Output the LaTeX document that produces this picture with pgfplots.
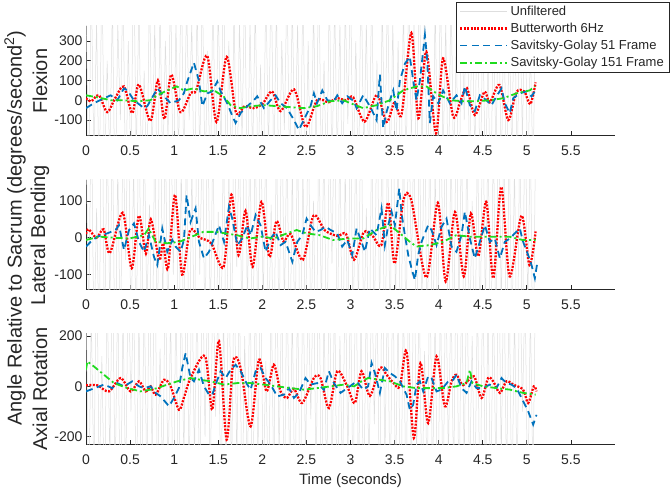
\documentclass[border=0pt]{standalone}
\usepackage{fontspec}
\setmainfont{Liberation Sans}
\usepackage{pgfplots}
\pgfplotsset{compat=1.18}
\usepackage{pgfplotstable}

\definecolor{mgray}{rgb}{0.15,0.15,0.15}
\definecolor{rawc}{rgb}{0.87,0.87,0.87}
\definecolor{bw}{rgb}{1,0,0}
\definecolor{sg}{rgb}{0,0.447,0.741}
\definecolor{sgg}{rgb}{0.12,0.86,0.12}

\pgfplotstableread{
a b c
5 3 4
-4 -2.5 -5
6 4 3
-3 -3 -4
4 0.8 6
-5 -3 -4
7 5 1.2
-4 -3 -5
2 3 4
-3 -2 -3
5 3 5
-6 -4 -4
4 2 4
-1 -3 -6
6 3 3
-5 -0.6 -4
3 4 5
-4 -3 -1
8 2 4
-3 -3 -5
5 4 3
-4 -3 -5
1.5 3 4
-5 -2 -4
6 0.9 5
-3 -4 -3
4 3 6
-6 -3 -4
5 5 1.5
-4 -2 -4
3 3 5
-2 -3 -4
6 4 3
-5 -1 -6
4 3 4
-3 -4 -5
7 2 4
-4 -3 -3
5 3 5
-1 -4 -4
4 2 5
-6 -3 -3
5 4 4
-3 -1 -5
6 3 6
-4 -3 -2
2.5 4 4
-5 -2.5 -4
6 3 5
-4 -4 -1.2
5 0.7 4
-3 -3 -5
7 3 3
-5 -4 -4
3 2 6
-4 -3 -4
5 4 5
-6 -0.8 -3
4 3 4
-2 -3 -5
6 5 2
-5 -2 -4
4 3 5
-3 -4 -6
5 3 4
-4 -3 -3
1.8 4 5
-5 -2 -4
6 3 1
-3 -3 -5
7 0.9 4
-4 -4 -4
5 3 6
-6 -3 -3
3 4 4
-1.5 -2 -5
6 3 5
-4 -4 -4
5 2 3
-3 -3 -5
4 3 4
-5 -4 -6
6 2 5
-4 -3 -3
3 4 4
-6 -3 -1.3
5 1 5
-3 -4 -4
7 3 6
-4 -2 -5
2 3 3
-5 -4 -4
6 3 5
-4 -0.7 -4
5 4 4
-3 -3 -6
4 3 2
-6 -4 -4
5 2 5
-1.2 -3 -3
6 4 4
-4 -3 -5
3 3 6
-5 -2 -4
7 4 3
-3 -3 -5
4 0.8 4
-5 -4 -4
6 3 5
-4 -3 -1.5
2 4 4
-6 -2 -5
5 3 6
-3 -4 -3
6 3 4
-4 -3 -5
4 5 5
-5 -2 -4
3 3 3
-6 -4 -6
5 3 4
-4 -3 -5
6 4 5
-2 -1 -4
4 3 6
-5 -4 -3
7 3 4
-3 -2 -5
5 4 1.4
-4 -3 -4
1.6 3 5
-6 -4 -4
5 2 3
-4 -3 -6
6 4 4
-3 -0.9 -5
4 3 5
-5 -4 -3
6 3 4
-4 -3 -4
3 4 6
-6 -2 -5
5 3 4
-1 -4 -3
7 3 5
-4 -3 -4
5 1 2
-3 -4 -5
6 3 4
-5 -3 -6
4 4 5
-4 -2 -4
2 3 3
-6 -4 -5
5 3 4
-3 -3 -4
6 4 6
-4 -2 -3
5 3 5
-5 -4 -4
4 3 4
-3 -3 -5
6 2 3
-4 -4 -4
5 3 5
-2 -3 -1
6 4 4
-5 -2 -5
3 3 3
-4 -4 -4
5 3 5
}\rawdata

\pgfplotsset{
 myax/.style={
  scale only axis, width=529pt,
  xmin=0, xmax=6,
  axis x line*=bottom, axis y line*=left,
  hide obscured x ticks=false, hide obscured y ticks=false,
  xtick={0,0.5,1,1.5,2,2.5,3,3.5,4,4.5,5,5.5},
  tick align=inside,
  major tick length=4.5pt,
  axis line style={draw=mgray, line width=1pt},
  every tick/.style={draw=mgray, line width=0.8pt},
  tick label style={font=\fontsize{14}{16}\selectfont, text=mgray},
  /pgf/number format/assume math mode=true,
  xticklabel style={yshift=-6pt},
  every axis y label/.style={at={(axis description cs:-0.087,0.5)}, rotate=90, anchor=center, font=\fontsize{20}{22}\selectfont, text=mgray},
  every axis x label/.style={at={(axis description cs:0.5,0)}, anchor=center, yshift=-36pt, font=\fontsize{15}{17}\selectfont, text=mgray},
 },
 rawst/.style={rawc, line width=0.5pt},
 bwst/.style={bw, line width=2.3pt, dash pattern=on 2pt off 1.4pt, smooth},
 sgst/.style={sg, line width=1.8pt, dash pattern=on 7pt off 4.5pt},
 sggst/.style={sgg, line width=1.8pt, dash pattern=on 7pt off 3pt on 2pt off 3pt},
}

\begin{document}
\begin{tikzpicture}
\useasboundingbox (0,0) rectangle (671pt,487pt);

% ---------------- Flexion ----------------
\begin{axis}[myax, at={(86pt,351pt)}, anchor=south west, height=110pt,
  ymin=-181, ymax=376, ytick={-100,0,100,200,300}, ylabel={Flexion},
  legend cell align=left,
  legend image code/.code={\draw[#1] (0pt,0pt) -- (47pt,0pt);},
  legend style={at={(1.102,1.221)}, anchor=north east, draw=mgray, fill=white,
    font=\fontsize{13}{15}\selectfont, text=mgray, inner xsep=3pt, inner ysep=2pt,
    row sep=2.2pt},
]
\addplot[rawst] table[x expr=\coordindex*0.03, y expr=100*\thisrow{a}] {\rawdata};
\addlegendentry{Unfiltered}
\addplot[bwst] coordinates {(0,10)(0.06,-5)(0.147,25)(0.24,-60)(0.33,10)(0.43,70)(0.525,-65)(0.60,80)(0.73,-105)(0.816,100)(0.89,-95)(0.967,130)(1.07,-60)(1.186,35)(1.25,50)(1.375,225)(1.48,-110)(1.595,220)(1.70,-60)(1.80,-30)(1.90,-40)(2.00,-20)(2.11,45)(2.207,-55)(2.36,55)(2.49,-135)(2.62,0)(2.75,-10)(2.85,10)(2.95,0)(3.03,15)(3.16,-108)(3.30,27)(3.41,-110)(3.50,-10)(3.58,-70)(3.69,340)(3.77,-91)(3.86,246)(3.97,-167)(4.05,212)(4.165,-83)(4.25,0)(4.32,62)(4.41,-75)(4.52,43)(4.58,-10)(4.69,77)(4.79,-100)(4.88,40)(4.97,45)(5.04,-20)(5.10,90)};
\addlegendentry{Butterworth 6Hz}
\addplot[sgst] coordinates {(0,-40)(0.09,-15)(0.204,10)(0.28,25)(0.355,0)(0.43,60)(0.47,50)(0.544,0)(0.658,-40)(0.695,-30)(0.81,60)(0.884,20)(0.96,-15)(1.054,0)(1.11,35)(1.149,95)(1.224,190)(1.28,100)(1.32,-30)(1.376,35)(1.432,45)(1.489,95)(1.527,45)(1.602,-15)(1.66,-80)(1.697,-115)(1.754,-65)(1.829,-30)(1.905,0)(1.942,20)(2.018,-40)(2.094,0)(2.15,25)(2.207,-15)(2.28,-40)(2.358,-100)(2.415,-150)(2.47,-100)(2.547,-30)(2.585,35)(2.62,-15)(2.68,50)(2.737,0)(2.81,-5)(2.85,25)(2.906,-15)(2.964,20)(3.04,-5)(3.069,-40)(3.144,25)(3.22,-30)(3.296,-100)(3.333,130)(3.371,-140)(3.409,-60)(3.447,0)(3.485,50)(3.522,-55)(3.56,100)(3.617,185)(3.673,220)(3.711,100)(3.749,0)(3.787,100)(3.844,330)(3.87,205)(3.9,-115)(3.938,20)(3.995,-15)(4.05,50)(4.127,-15)(4.202,25)(4.259,-15)(4.297,70)(4.354,-25)(4.41,-55)(4.467,25)(4.542,0)(4.599,-25)(4.656,20)(4.713,60)(4.75,-15)(4.807,-65)(4.845,10)(4.92,35)(4.996,45)(5.053,20)(5.091,45)};
\addlegendentry{Savitsky-Golay 51 Frame}
\addplot[sggst] coordinates {(0,25)(0.13,15)(0.28,0)(0.43,0)(0.58,-5)(0.73,0)(0.81,25)(0.92,50)(1.03,70)(1.11,50)(1.22,60)(1.34,45)(1.45,50)(1.56,20)(1.64,-25)(1.75,-40)(1.87,-30)(2.02,-25)(2.17,-30)(2.32,-35)(2.47,-40)(2.62,-30)(2.77,-5)(2.92,0)(3.0,-15)(3.144,-40)(3.296,-25)(3.447,0)(3.598,50)(3.749,70)(3.862,70)(3.976,35)(4.127,0)(4.278,-5)(4.429,-5)(4.58,0)(4.731,10)(4.883,35)(5.034,50)(5.09,70)};
\addlegendentry{Savitsky-Golay 151 Frame}
\end{axis}

% ---------------- Lateral Bending ----------------
\begin{axis}[myax, at={(86pt,197pt)}, anchor=south west, height=110pt,
  ymin=-142, ymax=157, ytick={-100,0,100}, ylabel={Lateral Bending}]
\addplot[rawst] table[x expr=\coordindex*0.03, y expr=100*\thisrow{b}] {\rawdata};
\addplot[bwst] coordinates {(0,10)(0.03,23)(0.12,0)(0.2,23)(0.27,-42)(0.416,68)(0.518,-83)(0.60,60)(0.68,-43)(0.735,50)(0.83,-60)(0.875,-15)(0.93,-83)(1.01,117)(1.09,-100)(1.18,20)(1.29,0)(1.42,-15)(1.56,-79)(1.65,117)(1.73,-47)(1.81,73)(1.89,-79)(1.99,98)(2.08,-52)(2.16,45)(2.24,-10)(2.32,10)(2.46,-60)(2.58,60)(2.71,20)(2.85,5)(2.95,10)(3.04,-60)(3.15,15)(3.25,5)(3.35,-20)(3.43,95)(3.50,-70)(3.60,102)(3.69,102)(3.86,-108)(3.99,95)(4.08,-119)(4.185,70)(4.285,-105)(4.365,66)(4.45,-50)(4.54,98)(4.62,-110)(4.71,138)(4.805,-105)(4.94,60)(5.03,-74)(5.10,17)};
\addplot[sgst] coordinates {(0,-24)(0.053,-11)(0.128,3)(0.242,12)(0.336,21)(0.374,34)(0.431,-33)(0.488,21)(0.544,39)(0.601,-11)(0.658,-38)(0.714,7)(0.771,-52)(0.809,-74)(0.865,25)(0.922,-38)(0.979,-6)(1.016,-24)(1.073,-38)(1.111,-6)(1.141,116)(1.186,43)(1.243,80)(1.281,-11)(1.338,-56)(1.395,-38)(1.451,-2)(1.508,34)(1.565,-11)(1.621,84)(1.659,52)(1.716,-20)(1.773,-2)(1.829,34)(1.867,7)(1.924,62)(1.98,34)(2.037,-38)(2.094,-2)(2.15,16)(2.207,-20)(2.264,-11)(2.34,-65)(2.396,-11)(2.453,7)(2.502,52)(2.547,34)(2.604,16)(2.66,21)(2.718,30)(2.774,21)(2.85,12)(2.906,-24)(2.963,-6)(3.02,-47)(3.069,25)(3.125,-11)(3.163,-38)(3.22,25)(3.296,7)(3.352,80)(3.39,-20)(3.428,34)(3.466,71)(3.503,34)(3.553,134)(3.579,66)(3.617,7)(3.655,-47)(3.692,-83)(3.73,-115)(3.768,-47)(3.806,-11)(3.844,12)(3.881,34)(3.919,21)(3.976,-20)(4.033,30)(4.089,52)(4.146,-24)(4.202,-38)(4.259,7)(4.297,71)(4.354,-2)(4.41,-56)(4.467,-11)(4.524,34)(4.58,-11)(4.637,-2)(4.694,-56)(4.75,-11)(4.807,-2)(4.864,12)(4.92,25)(4.958,-11)(5.015,-47)(5.053,-74)(5.091,-110)(5.117,-70)};
\addplot[sggst] coordinates {(0,-6)(0.15,3)(0.32,0)(0.49,-2)(0.66,7)(0.71,25)(0.79,-11)(0.92,-15)(1.06,-11)(1.2,3)(1.33,16)(1.47,16)(1.58,12)(1.71,7)(1.86,-2)(2.0,3)(2.13,-2)(2.28,12)(2.39,21)(2.5,12)(2.65,7)(2.8,-6)(2.993,-2)(3.144,-2)(3.296,21)(3.447,34)(3.56,12)(3.673,-11)(3.749,-24)(3.9,-20)(4.05,-11)(4.2,7)(4.35,3)(4.5,3)(4.65,3)(4.8,3)(4.95,-6)(5.1,-6)};
\end{axis}

% ---------------- Axial Rotation ----------------
\begin{axis}[myax, at={(86pt,42pt)}, anchor=south west, height=112pt,
  ymin=-233, ymax=212, ytick={-200,0,200}, ylabel={Axial Rotation},
  xlabel={Time (seconds)}]
\addplot[rawst] table[x expr=\coordindex*0.03, y expr=100*\thisrow{c}] {\rawdata};
\addplot[bwst] coordinates {(0,4)(0.128,4)(0.26,-20)(0.393,33)(0.506,-20)(0.6,20)(0.677,-20)(0.733,0)(0.79,-33)(0.884,26)(0.96,0)(1.054,-93)(1.11,-46)(1.186,33)(1.35,120)(1.432,-93)(1.508,181)(1.595,-212)(1.67,99)(1.754,73)(1.867,-159)(1.961,106)(2.048,-20)(2.13,86)(2.207,-20)(2.28,-46)(2.358,-10)(2.453,-66)(2.585,33)(2.66,33)(2.755,-86)(2.85,60)(2.963,0)(3.05,-66)(3.125,60)(3.22,-38)(3.333,73)(3.409,46)(3.485,15)(3.56,0)(3.636,139)(3.719,-205)(3.794,93)(3.881,-146)(3.976,119)(4.07,-79)(4.146,20)(4.202,46)(4.278,5)(4.399,40)(4.486,-46)(4.561,33)(4.618,20)(4.694,-26)(4.769,20)(4.845,7)(4.958,-13)(5.015,-66)(5.079,0)(5.11,-20)};
\addplot[sgst] coordinates {(0,-20)(0.053,-13)(0.204,7)(0.299,-7)(0.355,13)(0.431,0)(0.525,20)(0.601,0)(0.658,-7)(0.733,0)(0.79,-26)(0.847,-40)(0.941,-79)(0.998,-46)(1.054,-7)(1.092,73)(1.13,132)(1.186,33)(1.224,20)(1.281,66)(1.338,0)(1.395,-33)(1.432,-33)(1.47,7)(1.527,60)(1.584,33)(1.64,66)(1.697,86)(1.754,60)(1.829,7)(1.867,-13)(1.924,60)(1.98,73)(2.037,33)(2.094,7)(2.169,-40)(2.245,-33)(2.302,-7)(2.358,-46)(2.415,-26)(2.49,33)(2.547,7)(2.623,13)(2.698,-13)(2.755,60)(2.812,13)(2.887,-26)(2.963,-7)(3.02,7)(3.069,20)(3.144,-13)(3.2,0)(3.239,93)(3.277,53)(3.333,-26)(3.39,73)(3.447,53)(3.503,40)(3.56,20)(3.636,-33)(3.673,-93)(3.711,-73)(3.749,7)(3.787,20)(3.825,-20)(3.881,40)(3.919,33)(3.976,-20)(4.033,-13)(4.108,20)(4.165,26)(4.202,46)(4.259,-7)(4.316,-26)(4.372,20)(4.429,-7)(4.505,-7)(4.58,7)(4.656,-7)(4.713,33)(4.769,13)(4.826,7)(4.883,-7)(4.94,-46)(5.015,-99)(5.072,-152)(5.11,-113)};
\addplot[sggst] coordinates {(0,66)(0.015,99)(0.09,79)(0.204,46)(0.317,13)(0.469,-7)(0.62,-20)(0.733,-13)(0.809,-7)(0.922,7)(1.035,20)(1.186,33)(1.3,26)(1.413,20)(1.565,7)(1.716,13)(1.867,13)(2.018,7)(2.169,0)(2.32,-7)(2.47,-13)(2.623,-7)(2.774,0)(2.925,7)(3.04,0)(3.125,20)(3.2,33)(3.333,26)(3.447,20)(3.598,0)(3.749,-7)(3.9,-7)(4.05,-7)(4.202,0)(4.316,13)(4.354,66)(4.384,13)(4.505,0)(4.656,-7)(4.807,-13)(4.958,-26)(5.1,-33)};
\end{axis}

\node[rotate=90, font=\fontsize{20}{22}\selectfont, text=mgray] at (15pt,259pt) {Angle Relative to Sacrum (degrees/second\textsuperscript{2})};
\end{tikzpicture}
\end{document}
